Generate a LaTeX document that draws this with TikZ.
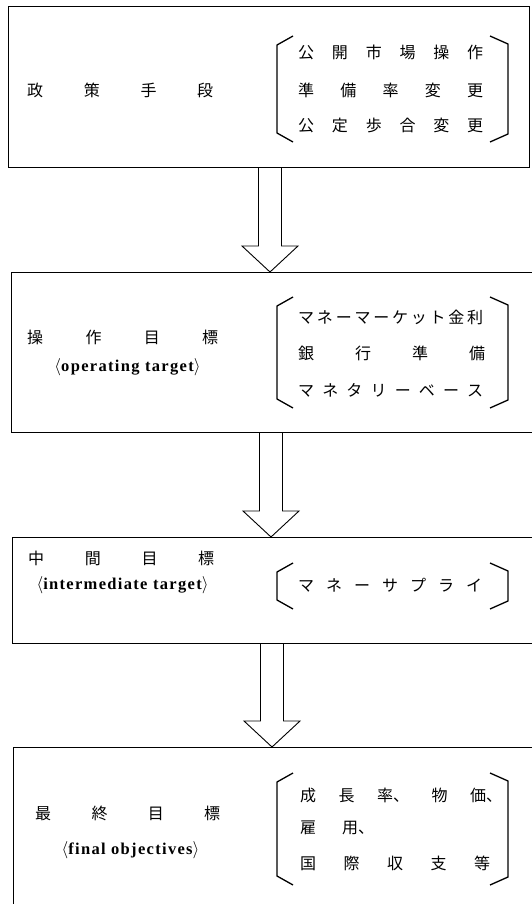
\documentclass[tikz,border=0pt]{standalone}
\usepackage{fontspec}
\newfontfamily\jafont{Noto Sans CJK JP}
\newfontfamily\enfont{Liberation Serif}[LetterSpace=8]
\usetikzlibrary{calc}

% evenly spread a row of characters over a given width
\newcommand{\spreadrow}[2]{\makebox[#1]{#2}}

% block arrow from the bottom of one box to the top of the next
\newcommand{\blockarrow}[3]{%
  \draw[arrowline]
    ($(#1|-#2.south)+(-11.5,0)$) -- ($(#1|-#3.north)+(-11.5,-26)$)
    -- ($(#1|-#3.north)+(-28,-26)$) -- (#1|-#3.north)
    -- ($(#1|-#3.north)+(28,-26)$) -- ($(#1|-#3.north)+(11.5,-26)$)
    -- ($(#1|-#2.south)+(11.5,0)$);}

% pair of tortoise-shell brackets between two heights
\newcommand{\shellbrackets}[2]{%
  \draw[bracketline] (293,#1) -- (277,#1+9) -- (277,#2-9) -- (293,#2);
  \draw[bracketline] (490,#1) -- (508,#1+8) -- (508,#2-8) -- (490,#2);}

% an English gloss in angle brackets
\newcommand{\gloss}[1]{$\langle$#1$\rangle$}

\begin{document}
\begin{tikzpicture}[x=1pt,y=-1pt,
  box/.style={draw, line width=1.1pt, rectangle, inner sep=0pt, anchor=north west},
  arrowline/.style={line width=0.9pt, line join=miter},
  bracketline/.style={line width=1.3pt, line join=miter},
  jrow/.style={anchor=west, inner sep=0pt, font=\jafont\fontsize{16}{16}\selectfont},
  erow/.style={inner sep=0pt, font=\enfont\bfseries\fontsize{16.5}{16.5}\selectfont}]
\useasboundingbox (0,0) rectangle (531,904);

% boxes (the lower three run past the right edge)
\node[box, minimum width=521pt, minimum height=161pt] (b1) at (8,6) {};
\node[box, minimum width=530pt, minimum height=160pt] (b2) at (11,272) {};
\node[box, minimum width=530pt, minimum height=106pt] (b3) at (12,537) {};
\node[box, minimum width=530pt, minimum height=180pt] (b4) at (13,747) {};

% arrow axes
\coordinate (ax1) at (270,0);
\coordinate (ax2) at (271,0);
\coordinate (ax3) at (272,0);
\blockarrow{ax1}{b1}{b2}
\blockarrow{ax2}{b2}{b3}
\blockarrow{ax3}{b3}{b4}

% box 1
\node[jrow] (t1) at (27,90) {\spreadrow{186pt}{政\hfill 策\hfill 手\hfill 段}};
\shellbrackets{36}{142}
\node[jrow] (l11) at (298,52) {\spreadrow{185pt}{公\hfill 開\hfill 市\hfill 場\hfill 操\hfill 作}};
\node[jrow] (l12) at (298,90) {\spreadrow{185pt}{準\hfill 備\hfill 率\hfill 変\hfill 更}};
\node[jrow] (l13) at (298,125) {\spreadrow{185pt}{公\hfill 定\hfill 歩\hfill 合\hfill 変\hfill 更}};

% box 2
\node[jrow] (t2) at (27,337) {\spreadrow{191pt}{操\hfill 作\hfill 目\hfill 標}};
\node[erow] (e2) at (127.5,367) {\gloss{operating target}};
\shellbrackets{297}{408}
\node[jrow] (l21) at (298,317) {\spreadrow{185pt}{マ\hfill ネ\hfill ー\hfill マ\hfill ー\hfill ケ\hfill ッ\hfill ト\hfill 金\hfill 利}};
\node[jrow] (l22) at (298,353) {\spreadrow{187pt}{銀\hfill 行\hfill 準\hfill 備}};
\node[jrow] (l23) at (298,390) {\spreadrow{185pt}{マ\hfill ネ\hfill タ\hfill リ\hfill ー\hfill ベ\hfill ー\hfill ス}};

% box 3
\node[jrow] (t3) at (28,558) {\spreadrow{186pt}{中\hfill 間\hfill 目\hfill 標}};
\node[erow] (e3) at (122.5,585) {\gloss{intermediate target}};
\shellbrackets{563}{609}
\node[jrow] (l31) at (298,585) {\spreadrow{184pt}{マ\hfill ネ\hfill ー\hfill サ\hfill プ\hfill ラ\hfill イ}};

% box 4
\node[jrow] (t4) at (35,813) {\spreadrow{185pt}{最\hfill 終\hfill 目\hfill 標}};
\node[erow] (e4) at (130.5,850) {\gloss{final objectives}};
\shellbrackets{773}{885}
\node[jrow] (l41) at (300,795) {\spreadrow{202pt}{成\hfill 長\hfill 率、\hfill 物\hfill 価、}};
\node[jrow] (l42) at (300,828) {雇\hspace{26pt}用、};
\node[jrow] (l43) at (300,863) {\spreadrow{190pt}{国\hfill 際\hfill 収\hfill 支\hfill 等}};
\end{tikzpicture}
\end{document}
